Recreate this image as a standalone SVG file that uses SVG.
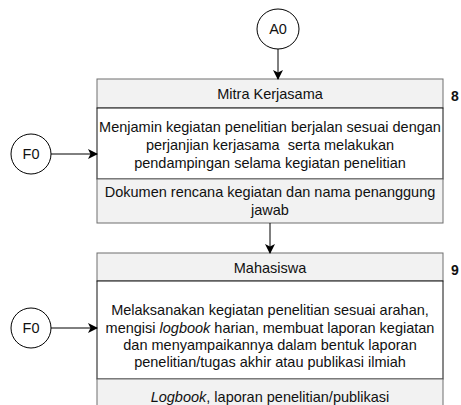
<svg xmlns="http://www.w3.org/2000/svg" width="461" height="405" viewBox="0 0 461 405">
<defs>
<marker id="arr" markerWidth="10" markerHeight="10" refX="9" refY="5" orient="auto" markerUnits="userSpaceOnUse">
<path d="M0,0 L10,5 L0,10 L2.5,5 Z" fill="#000"/>
</marker>
<style>
text{font-family:"Liberation Sans",Arial,Helvetica,sans-serif;font-size:14.5px;fill:#111;text-anchor:middle}
.num{font-weight:bold;font-size:14px}
.hdr{fill:#f2f2f2;stroke:#6e6e6e;stroke-width:1}
.body{fill:#fff;stroke:#111;stroke-width:1}
.out{fill:#f2f2f2;stroke:#6e6e6e;stroke-width:1}
.conn{fill:#fff;stroke:#000;stroke-width:1}
.edge{fill:none;stroke:#000;stroke-width:1}
</style>
</defs>
<rect width="461" height="405" fill="#fff"/>
<g id="A0">
<ellipse class="conn" cx="278" cy="29" rx="21" ry="20"/>
<text x="278" y="34">A0</text>
</g>
<g id="F0a">
<circle class="conn" cx="31" cy="154" r="20"/>
<text x="31" y="159">F0</text>
</g>
<g id="F0b">
<circle class="conn" cx="31" cy="328" r="20"/>
<text x="31" y="333">F0</text>
</g>
<g id="step8">
<rect class="hdr" x="97" y="79" width="346" height="29"/>
<text x="270" y="99">Mitra Kerjasama</text>
<rect class="body" x="97" y="108" width="346" height="71"/>
<text x="270" y="132">Menjamin kegiatan penelitian berjalan sesuai dengan</text>
<text x="270" y="150" xml:space="preserve">perjanjian kerjasama  serta melakukan</text>
<text x="270" y="168">pendampingan selama kegiatan penelitian</text>
<rect class="out" x="97" y="179" width="346" height="44"/>
<text x="270" y="197">Dokumen rencana kegiatan dan nama penanggung</text>
<text x="270" y="215">jawab</text>
<text class="num" x="455" y="101">8</text>
</g>
<g id="step9">
<rect class="hdr" x="97" y="253" width="346" height="28"/>
<text x="270" y="273">Mahasiswa</text>
<rect class="body" x="97" y="281" width="346" height="98"/>
<text x="270" y="315">Melaksanakan kegiatan penelitian sesuai arahan,</text>
<text x="270" y="333">mengisi <tspan font-style="italic">logbook</tspan> harian, membuat laporan kegiatan</text>
<text x="270" y="350">dan menyampaikannya dalam bentuk laporan</text>
<text x="270" y="367">penelitian/tugas akhir atau publikasi ilmiah</text>
<rect class="out" x="97" y="379" width="346" height="40"/>
<text x="270" y="402"><tspan font-style="italic">Logbook</tspan>, laporan penelitian/publikasi</text>
<text class="num" x="455" y="275">9</text>
</g>
<g id="connectors">
<line class="edge" x1="278" y1="49" x2="278" y2="79" marker-end="url(#arr)"/>
<line class="edge" x1="51" y1="154" x2="97" y2="154" marker-end="url(#arr)"/>
<line class="edge" x1="270" y1="223" x2="270" y2="253" marker-end="url(#arr)"/>
<line class="edge" x1="51" y1="328" x2="97" y2="328" marker-end="url(#arr)"/>
</g>
</svg>
